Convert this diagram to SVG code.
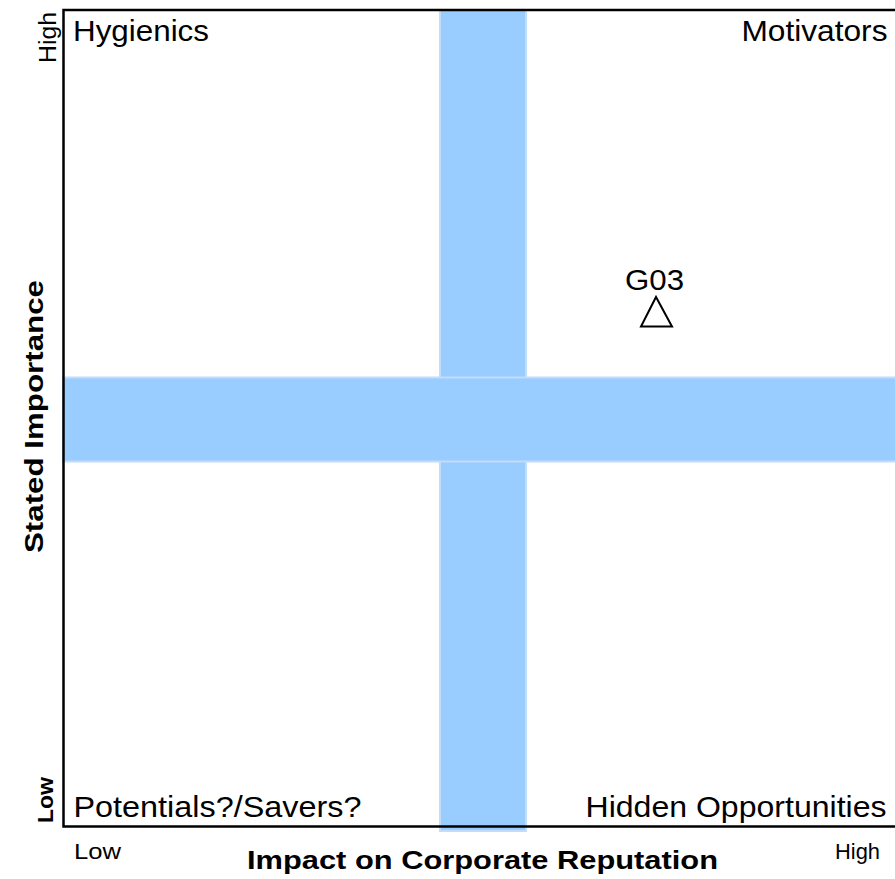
<svg xmlns="http://www.w3.org/2000/svg" width="895" height="879" viewBox="0 0 895 879">
<style>
.band{fill:#99ccff;stroke:#c2dcfa;stroke-width:2}
.q{font-family:"Liberation Sans",Arial,sans-serif;font-size:29px;fill:#000}
.s{font-family:"Liberation Sans",Arial,sans-serif;font-size:22px;fill:#000}
.b{font-family:"Liberation Sans",Arial,sans-serif;font-weight:bold;fill:#000}
</style>
<rect width="895" height="879" fill="#fff"/>
<g id="bands">
<rect class="band" x="440" y="10" width="86" height="821"/>
<rect class="band" x="63" y="377.5" width="840" height="84"/>
</g>
<g id="frame">
<path d="M900 10 H63.5 V826.5 H900" fill="none" stroke="#000" stroke-width="2.5"/>
</g>
<g id="quadrant-labels">
<text class="q" x="73" y="41" textLength="136" lengthAdjust="spacingAndGlyphs">Hygienics</text>
<text class="q" x="741.5" y="41" textLength="146" lengthAdjust="spacingAndGlyphs">Motivators</text>
<text class="q" x="73.5" y="817" textLength="288" lengthAdjust="spacingAndGlyphs">Potentials?/Savers?</text>
<text class="q" x="585.5" y="817" textLength="301" lengthAdjust="spacingAndGlyphs">Hidden Opportunities</text>
</g>
<g id="axis-labels">
<text class="s" x="74" y="859" textLength="47" lengthAdjust="spacingAndGlyphs">Low</text>
<text class="s" x="835" y="859" textLength="45" lengthAdjust="spacingAndGlyphs">High</text>
<text class="b" x="247" y="869" style="font-size:26px" textLength="471" lengthAdjust="spacingAndGlyphs">Impact on Corporate Reputation</text>
<text class="s" transform="translate(56,63) rotate(-90)" style="font-size:23px" textLength="51" lengthAdjust="spacingAndGlyphs">High</text>
<text class="b" transform="translate(53,823) rotate(-90)" style="font-size:22px" textLength="46" lengthAdjust="spacingAndGlyphs">Low</text>
<text class="b" transform="translate(43,553) rotate(-90)" style="font-size:26px" textLength="273" lengthAdjust="spacingAndGlyphs">Stated Importance</text>
</g>
<g id="G03">
<text class="q" x="625" y="290" textLength="59" lengthAdjust="spacingAndGlyphs">G03</text>
<path d="M656 297 L641 326.5 L672 326.5 Z" fill="#fff" stroke="#000" stroke-width="2"/>
</g>
</svg>
